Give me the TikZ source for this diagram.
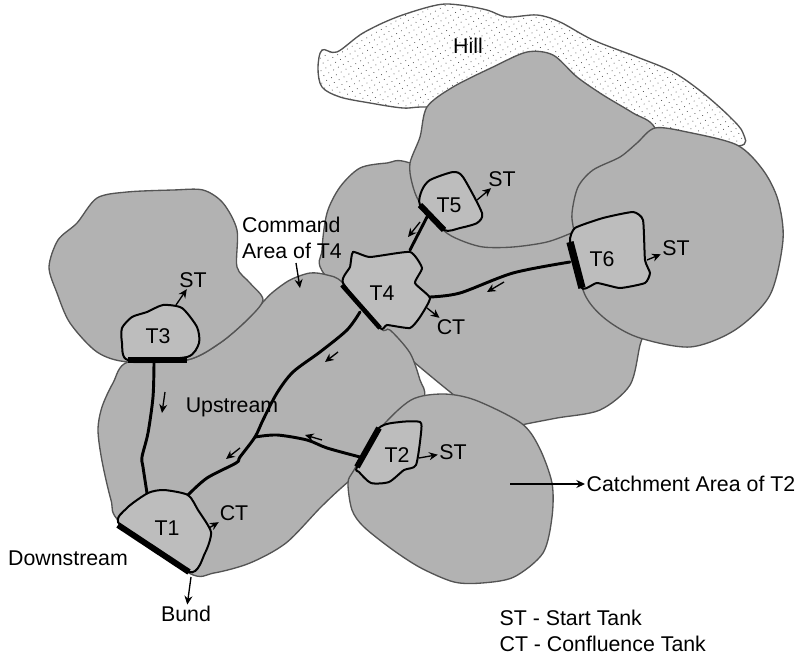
\documentclass[tikz,border=0pt]{standalone}
\usepackage{fontspec}
\setmainfont{Liberation Sans}
\usetikzlibrary{arrows.meta,patterns.meta}
\definecolor{catchgray}{gray}{0.70}
\definecolor{tankgray}{gray}{0.74}
\definecolor{edgegray}{gray}{0.33}
\tikzset{catch/.style={
    draw=edgegray,
    line width=1pt,
    fill=catchgray
  },
  tank/.style={draw=black,line width=1.5pt,fill=tankgray},
  dam/.style={draw=black,line width=4.5pt},
  stream/.style={draw=black,line width=2.2pt,line cap=round,line join=round},
  flow/.style={draw=black,line width=1pt,-{Stealth[length=6.5pt,width=6pt]}},
  lbl/.style={inner sep=1pt,font=\fontsize{16}{19}\selectfont,align=left},
}

\begin{document}
\begin{tikzpicture}[x=0.75pt,y=-0.75pt]
  \useasboundingbox (0,0) rectangle (804,657);
  % hill
  \filldraw[draw=edgegray,line width=1pt,fill=white] plot[smooth cycle,tension=0.55] coordinates {(322,50) (337,52) (363,33) (397,17) (437,5) (460,5) (487,10) (507,17) (537,15) (560,22) (593,40) (637,57) (673,72) (703,93) (730,117) (743,133) (738,146) (660,140) (500,110) (427,107) (403,108) (370,103) (340,97) (322,87) (318,68)};
  \fill[pattern={Dots[distance=4.2pt,radius=0.42pt,angle=30]},pattern color=black!65] plot[smooth cycle,tension=0.55] coordinates {(322,50) (337,52) (363,33) (397,17) (437,5) (460,5) (487,10) (507,17) (537,15) (560,22) (593,40) (637,57) (673,72) (703,93) (730,117) (743,133) (738,146) (660,140) (500,110) (427,107) (403,108) (370,103) (340,97) (322,87) (318,68)};
  % catchments
  \path[catch] plot[smooth cycle,tension=0.5] coordinates {(410,163) (387,163) (360,168) (340,187) (327,213) (322,250) (325,275) (400,350) (500,430) (521,425) (557,418) (600,410) (630,385) (640,345) (650,300) (600,220) (500,200)};
  \path[catch] plot[smooth cycle,tension=0.5] coordinates {(427,107) (453,87) (493,67) (527,52) (553,55) (577,77) (603,95) (633,113) (655,128) (670,180) (640,210) (590,225) (574,232) (547,242) (513,247) (483,247) (460,240) (443,230) (420,203) (412,183) (410,163) (420,137)};
  \path[catch] plot[smooth cycle,tension=0.5] coordinates {(655,128) (687,132) (737,145) (763,170) (778,200) (783,240) (770,295) (735,330) (690,347) (637,337) (603,317) (583,290) (574,232) (572,213) (578,187) (593,170) (620,157) (637,143)};
  \path[catch] plot[smooth cycle,tension=0.5] coordinates {(343,283) (327,275) (310,273) (290,280) (273,292) (263,302) (247,320) (220,343) (187,360) (128,362) (113,383) (102,407) (98,430) (102,461) (111,500) (120,522) (189,573) (214,573) (250,563) (286,543) (321,507) (348,482) (400,440) (424,398) (420,380) (410,353) (390,330) (380,328)};
  \path[catch] plot[smooth cycle,tension=0.5] coordinates {(128,362) (97,352) (70,323) (57,293) (49,267) (58,240) (77,223) (97,198) (127,192) (173,190) (203,190) (223,203) (237,230) (237,267) (250,283) (263,300) (247,320) (220,343) (187,360)};
  \path[catch] plot[smooth cycle,tension=0.5] coordinates {(411,400) (443,394) (475,400) (521,423) (539,447) (552,483) (552,517) (543,553) (514,577) (482,583) (454,582) (421,568) (393,550) (364,527) (352,510) (348,483) (354,470) (379,430)};
  % tanks
  \path[tank] plot[smooth cycle,tension=0.4] coordinates {(120,525) (127,508) (148,493) (164,490) (188,495) (198,510) (211,532) (205,553) (189,572)};
  \path[tank] plot[smooth cycle,tension=0.4] coordinates {(357,467) (379,428) (400,422) (420,422) (421,433) (416,465) (404,470) (389,482) (371,483) (359,472)};
  \path[tank] plot[smooth cycle,tension=0.4] coordinates {(128,360) (122,343) (122,328) (132,317) (147,312) (163,305) (182,308) (197,327) (199,343) (187,357)};
  \path[tank] plot[smooth cycle,tension=0.3] coordinates {(343,283) (350,267) (353,252) (370,257) (410,252) (422,268) (415,283) (430,298) (420,317) (410,328) (387,325) (380,328)};
  \path[tank] plot[smooth cycle,tension=0.4] coordinates {(420,205) (422,190) (430,180) (453,172) (463,177) (482,213) (477,223) (460,228) (444,230)};
  \path[tank] plot[smooth cycle,tension=0.3] coordinates {(575,228) (603,218) (633,212) (643,220) (645,260) (650,273) (645,283) (620,288) (597,283) (582,288) (570,242)};
  % streams
  \draw[stream] (427,217) -- (410,250);
  \draw[stream] plot[smooth,tension=0.5] coordinates {(570,262) (513,273) (460,293) (430,297)};
  \draw[stream] plot[smooth,tension=0.5] coordinates {(360,312) (347,330) (320,352) (293,372) (277,393) (263,420) (255,437) (240,457) (236,463) (207,478) (188,495)};
  \draw[stream] plot[smooth,tension=0.5] coordinates {(255,437) (277,435) (307,440) (327,448) (360,457)};
  \draw[stream] plot[smooth,tension=0.5] coordinates {(154,363) (153,397) (148,433) (142,457) (143,467) (147,493)};
  % dams
  \draw[dam] (118,525) -- (189,572);
  \draw[dam] (357,467) -- (379,428);
  \draw[dam] (128,360) -- (187,360);
  \draw[dam,line width=3.5pt] (342,285) -- (380,328);
  \draw[dam] (420,205) -- (444,230);
  \draw[dam,line width=5.5pt] (570,242) -- (582,288);
  % flow arrows
  \draw[flow] (420,222) -- (408,237);
  \draw[flow] (504,282) -- (487,292);
  \draw[flow] (338,352) -- (325,362);
  \draw[flow] (165,392) -- (162,413);
  \draw[flow] (322,440) -- (305,435);
  \draw[flow] (240,448) -- (226,459);
  % labels
  \node[lbl] (hill) at (468,46) {Hill};
  \node[lbl] (t1) at (167,528) {T1};
  \node[lbl] (t2) at (397,455) {T2};
  \node[lbl] (t3) at (158,336) {T3};
  \node[lbl] (t4) at (382,293) {T4};
  \node[lbl] (t5) at (449,205) {T5};
  \node[lbl] (t6) at (602,259) {T6};
  \node[lbl] (st3) at (193,280) {ST};
  \node[lbl] (st5) at (502,179) {ST};
  \node[lbl] (st6) at (676,248) {ST};
  \node[lbl] (st2) at (453,452) {ST};
  \node[lbl] (ct4) at (451,327) {CT};
  \node[lbl] (ct1) at (234,513) {CT};
  \node[lbl] (cmd) at (292,238) {Command\\Area of T4};
  \node[lbl] (up) at (232,407) {Upstream};
  \node[lbl] (down) at (68,558) {Downstream};
  \node[lbl] (bund) at (186,614) {Bund};
  \node[lbl,anchor=west] (catchlbl) at (585,484) {Catchment Area of T2};
  \node[lbl,anchor=west] (legend) at (498,631) {ST - Start Tank\\CT - Confluence Tank};
  % label arrows
  \coordinate (out3) at (176,305);
  \coordinate (out5) at (477,200);
  \coordinate (out6) at (647,260);
  \coordinate (out2) at (419,458);
  \coordinate (out4) at (427,308);
  \coordinate (out1) at (209,528);
  \coordinate (outb) at (191,577);
  \coordinate (cmdend) at (300,288);
  \coordinate (catchin) at (510,484);
  \draw[flow] (out3) -- (st3);
  \draw[flow] (out5) -- (st5);
  \draw[flow] (out6) -- (st6);
  \draw[flow] (out2) -- (st2);
  \draw[flow] (out4) -- (ct4);
  \draw[flow] (out1) -- (ct1);
  \draw[flow] (outb) -- (bund);
  \draw[flow] (cmd) ++(4,25) -- (cmdend);
  \draw[flow] (catchin) -- (catchlbl);
\end{tikzpicture}
\end{document}
